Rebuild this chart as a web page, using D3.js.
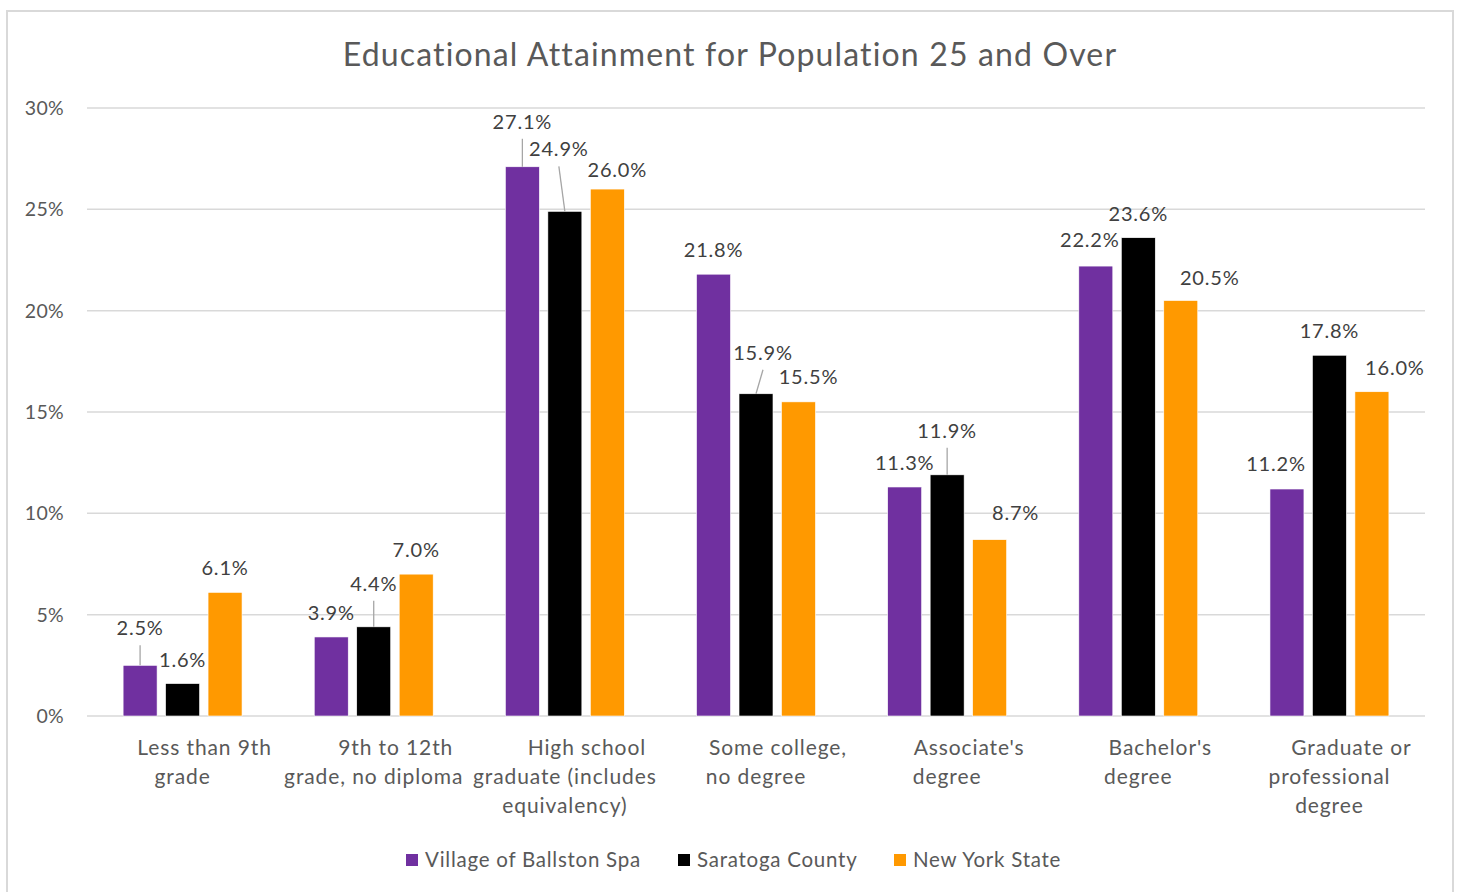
<!DOCTYPE html>
<html>
<head>
<meta charset="utf-8">
<script src="https://cdn.jsdelivr.net/npm/d3@7"></script>
<style>
  body { margin: 0; background: #fff; }
  svg { display: block; font-family: Lato, "Open Sans", sans-serif; }
</style>
</head>
<body>
<svg></svg>
<script>
// chart data
const categories = [
  ["Less than 9th", "grade"],
  ["9th to 12th", "grade, no diploma"],
  ["High school", "graduate (includes", "equivalency)"],
  ["Some college,", "no degree"],
  ["Associate's", "degree"],
  ["Bachelor's", "degree"],
  ["Graduate or", "professional", "degree"]
];
const seriesNames = ["Village of Ballston Spa", "Saratoga County", "New York State"];
const village = [2.5, 3.9, 27.1, 21.8, 11.3, 22.2, 11.2];
const saratoga = [1.6, 4.4, 24.9, 15.9, 11.9, 23.6, 17.8];
const nys = [6.1, 7.0, 26.0, 15.5, 8.7, 20.5, 16.0];
const yTicks = [0, 5, 10, 15, 20, 25, 30];

// label nudges (dx, dy, leader line) as placed in the original
const villageLabelPos = [[0, -13, 1], [0, 0, 0], [0, -21, 1], [0, 0, 0], [0, 0, 0], [-6, -2, 0], [-11, -1, 0]];
const saratogaLabelPos = [[0, 0, 0], [0, -19, 1], [-6, -38, 1], [7, -17, 1], [0, -20, 1], [0, 0, 0], [0, 0, 0]];
const nysLabelPos = [[0, 0, 0], [0, 0, 0], [10, 5, 0], [10, -1, 0], [26, -3, 0], [29, 1, 0], [23, 0, 0]];

const colors = ["#7030A0", "#000000", "#FF9900"];
const allValues = [village, saratoga, nys];
const allLabelPos = [villageLabelPos, saratogaLabelPos, nysLabelPos];

const width = 1460, height = 892;
const svg = d3.select("svg").attr("width", width).attr("height", height);

// outer chart border
svg.append("rect")
  .attr("x", 7).attr("y", 11)
  .attr("width", 1446).attr("height", 900)
  .attr("fill", "#fff")
  .attr("stroke", "#d9d9d9")
  .attr("stroke-width", 2);

const margin = { left: 87, right: 1425, top: 108, bottom: 716 };

const x0 = d3.scaleBand()
  .domain(d3.range(categories.length))
  .range([margin.left, margin.right]);

const x1 = d3.scaleBand()
  .domain(d3.range(seriesNames.length))
  .range([0, x0.bandwidth()])
  .paddingInner(0.2)
  .paddingOuter(0.85);

const y = d3.scaleLinear()
  .domain([0, 30])
  .range([margin.bottom, margin.top]);

// gridlines
svg.append("g")
  .selectAll("line")
  .data(yTicks)
  .join("line")
  .attr("x1", margin.left).attr("x2", margin.right)
  .attr("y1", d => y(d)).attr("y2", d => y(d))
  .attr("stroke", "#d9d9d9")
  .attr("stroke-width", 1.5);

// y tick labels
svg.append("g")
  .selectAll("text")
  .data(yTicks)
  .join("text")
  .attr("x", 64)
  .attr("y", d => y(d) + 7)
  .attr("text-anchor", "end")
  .attr("fill", "#595959")
  .attr("font-size", 19.5)
  .attr("letter-spacing", 0.3)
  .text(d => d + "%");

// bars
const groups = svg.append("g")
  .selectAll("g")
  .data(allValues)
  .join("g")
  .attr("fill", (d, i) => colors[i]);

groups.each(function(vals, s) {
  d3.select(this).selectAll("rect")
    .data(vals)
    .join("rect")
    .attr("x", (d, i) => x0(i) + x1(s))
    .attr("y", d => y(d))
    .attr("width", x1.bandwidth())
    .attr("height", d => y(0) - y(d))
    .attr("stroke", "#fff")
    .attr("stroke-width", 0.6);
});

// data labels with leader lines
const labelLayer = svg.append("g");
allValues.forEach((vals, s) => {
  vals.forEach((v, i) => {
    const bx = x0(i) + x1(s) + x1.bandwidth() / 2;
    const top = y(v);
    const [dx, dy, leader] = allLabelPos[s][i];
    const lx = bx + dx;
    const ly = top - 24 + dy; // vertical centre of the label
    if (leader) {
      labelLayer.append("line")
        .attr("x1", lx).attr("y1", ly + 17)
        .attr("x2", bx).attr("y2", top)
        .attr("stroke", "#a6a6a6")
        .attr("stroke-width", 1.3);
    }
    labelLayer.append("text")
      .attr("x", lx)
      .attr("y", ly + 7)
      .attr("text-anchor", "middle")
      .attr("fill", "#404040")
      .attr("font-size", 20)
      .attr("letter-spacing", 0.8)
      .text(v.toFixed(1) + "%");
  });
});

// category labels
const catLayer = svg.append("g");
categories.forEach((lines, i) => {
  const cx = x0(i) + x0.bandwidth() / 2;
  lines.forEach((line, j) => {
    catLayer.append("text")
      .attr("x", cx + (j === 0 ? 22 : 0))
      .attr("y", 755 + j * 29)
      .attr("text-anchor", "middle")
      .attr("fill", "#595959")
      .attr("font-size", 21)
      .attr("letter-spacing", 0.9)
      .text(line);
  });
});

// title
svg.append("text")
  .attr("x", 730)
  .attr("y", 66)
  .attr("text-anchor", "middle")
  .attr("fill", "#595959")
  .attr("font-size", 32)
  .attr("letter-spacing", 1.15)
  .text("Educational Attainment for Population 25 and Over");

// legend
const legendX = [406, 678, 894];
const legend = svg.append("g")
  .selectAll("g")
  .data(seriesNames)
  .join("g")
  .attr("transform", (d, i) => `translate(${legendX[i]},860)`);

legend.append("rect")
  .attr("x", 0).attr("y", -6)
  .attr("width", 12).attr("height", 12)
  .attr("fill", (d, i) => colors[i]);

legend.append("text")
  .attr("x", 19)
  .attr("y", 7)
  .attr("fill", "#595959")
  .attr("font-size", 20.5)
  .attr("letter-spacing", 0.75)
  .text(d => d);
</script>
</body>
</html>
